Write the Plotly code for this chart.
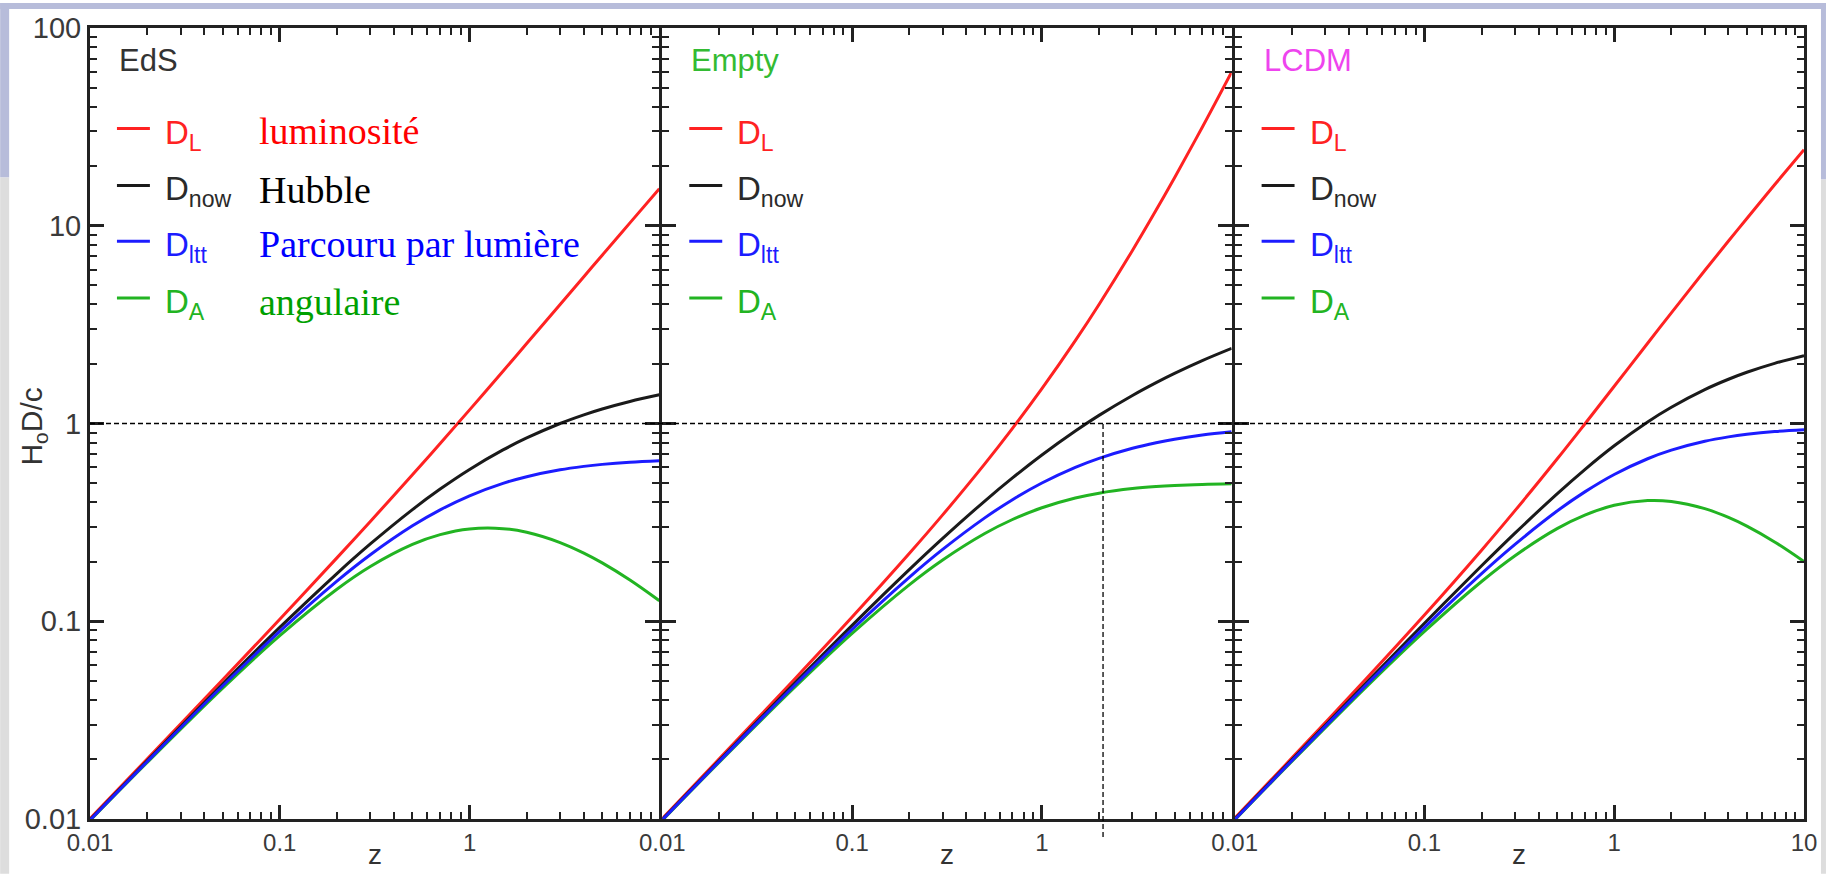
import plotly.graph_objects as go

# ---------------- data ----------------
z = [0.01, 0.02, 0.05, 0.1, 0.2, 0.3, 0.5, 0.7, 1, 1.5, 2, 3, 4, 5, 7, 10]

eds_DL   = [0.01003, 0.02010, 0.05061, 0.1024, 0.2092, 0.3197, 0.5505, 0.7924, 1.172, 1.838, 2.536, 4.000, 5.528, 7.101, 10.34, 15.37]
eds_Dnow = [0.00993, 0.01970, 0.04820, 0.09307, 0.1743, 0.2459, 0.3670, 0.4661, 0.5858, 0.7351, 0.8453, 1.000, 1.106, 1.184, 1.293, 1.397]
eds_Dltt = [0.00987, 0.01949, 0.04705, 0.08881, 0.1595, 0.2169, 0.3038, 0.3659, 0.4310, 0.4980, 0.5384, 0.5833, 0.6070, 0.6213, 0.6372, 0.6484]
eds_DA   = [0.00983, 0.01931, 0.04590, 0.08461, 0.1452, 0.1892, 0.2447, 0.2742, 0.2929, 0.2940, 0.2818, 0.2500, 0.2211, 0.1973, 0.1616, 0.1270]

emp_DL   = [0.01005, 0.02020, 0.05125, 0.1050, 0.2200, 0.3450, 0.6250, 0.9450, 1.500, 2.625, 4.000, 7.500, 12.00, 17.50, 31.50, 60.00]
emp_Dnow = [0.00995, 0.01980, 0.04879, 0.09531, 0.1823, 0.2624, 0.4055, 0.5306, 0.6931, 0.9163, 1.099, 1.386, 1.609, 1.792, 2.079, 2.398]
emp_Dltt = [0.00990, 0.01961, 0.04762, 0.09091, 0.1667, 0.2308, 0.3333, 0.4118, 0.5000, 0.6000, 0.6667, 0.7500, 0.8000, 0.8333, 0.8750, 0.9091]
emp_DA   = [0.00985, 0.01942, 0.04649, 0.08678, 0.1528, 0.2041, 0.2778, 0.3270, 0.3750, 0.4200, 0.4444, 0.4688, 0.4800, 0.4861, 0.4922, 0.4959]

lcdm_DL   = [0.01008, 0.02031, 0.05190, 0.1075, 0.2288, 0.3626, 0.6615, 0.9947, 1.543, 2.547, 3.628, 5.936, 8.371, 10.89, 16.12, 24.25]
lcdm_Dnow = [0.00998, 0.01991, 0.04943, 0.09771, 0.1907, 0.2789, 0.4410, 0.5851, 0.7714, 1.019, 1.209, 1.484, 1.674, 1.816, 2.015, 2.204]
lcdm_Dltt = [0.00993, 0.01971, 0.04823, 0.09317, 0.1741, 0.2447, 0.3609, 0.4511, 0.5523, 0.6634, 0.7331, 0.8129, 0.8556, 0.8814, 0.9104, 0.9308]
lcdm_DA   = [0.00988, 0.01952, 0.04708, 0.08882, 0.1589, 0.2145, 0.2940, 0.3442, 0.3857, 0.4076, 0.4032, 0.3710, 0.3349, 0.3026, 0.2518, 0.2004]

panel_names = ["EdS", "Empty", "LCDM"]
panel_title_colors = ["#333333", "#33bb33", "#ee44ee"]
series_labels = ["D<sub>L</sub>", "D<sub>now</sub>", "D<sub>ltt</sub>", "D<sub>A</sub>"]
series_colors = ["#ff2222", "#1a1a1a", "#1c1cff", "#22b422"]
french_labels = ["luminosité", "Hubble", "Parcouru par lumière", "angulaire"]
french_colors = ["#ff0000", "#000000", "#0000ff", "#00a000"]

x_ticks_12 = [0.01, 0.1, 1]
x_ticktext_12 = ["0.01", "0.1", "1"]
x_ticks_3 = [0.01, 0.1, 1, 10]
x_ticktext_3 = ["0.01", "0.1", "1", "10"]
y_ticks = [0.01, 0.1, 1, 10, 100]
y_ticktext = ["0.01", "0.1", "1", "10", "100"]

unit_line = 1          # horizontal dashed reference H0 D / c = 1
z_marker_empty = 2.1   # vertical dashed line in the Empty panel

panels = [
    (eds_DL, eds_Dnow, eds_Dltt, eds_DA),
    (emp_DL, emp_Dnow, emp_Dltt, emp_DA),
    (lcdm_DL, lcdm_Dnow, lcdm_Dltt, lcdm_DA),
]

# ---------------- geometry helpers ----------------
W, H = 1829, 874
L, R, T, B = 90, 1807, 25, 819
LW = 3                                  # axis line width
GAP = LW / (R - L)                      # paper gap so neighbouring frame lines overlap
DW = (1 - 2 * GAP) / 3.0                # panel domain width (paper)
domains = [[p * (DW + GAP), p * (DW + GAP) + DW] for p in range(3)]
domains[2][1] = 1.0

def px(x):
    return (x - L) / (R - L)

def py(y):
    return (B - y) / (B - T)

def panel_left(p):
    return L + domains[p][0] * (R - L)

def panel_width(p):
    return (domains[p][1] - domains[p][0]) * (R - L)

fig = go.Figure()

axis_color = "#222222"
for p, (DL, Dnow, Dltt, DA) in enumerate(panels):
    xa = "x" if p == 0 else f"x{p+1}"
    ya = "y" if p == 0 else f"y{p+1}"
    for vals, col in [(DA, series_colors[3]), (DL, series_colors[0]),
                      (Dnow, series_colors[1]), (Dltt, series_colors[2])]:
        fig.add_trace(go.Scatter(x=z, y=vals, mode="lines", xaxis=xa, yaxis=ya,
                                 line=dict(color=col, width=3, shape="spline"),
                                 showlegend=False, hoverinfo="skip"))

minor_x = [m * 10.0 ** k for k in (-2, -1, 0) for m in range(2, 10)]
minor_y = [m * 10.0 ** k for k in (-2, -1, 0, 1) for m in range(2, 10)]

tick_font_x = dict(family="Liberation Sans, Arial", size=24, color="#3a3a3a")
tick_font_y = dict(family="Liberation Sans, Arial", size=29, color="#3a3a3a")

layout_axes = {}
for p in range(3):
    xk = "xaxis" if p == 0 else f"xaxis{p+1}"
    yk = "yaxis" if p == 0 else f"yaxis{p+1}"
    xa = "x" if p == 0 else f"x{p+1}"
    ya = "y" if p == 0 else f"y{p+1}"
    tv = x_ticks_3 if p == 2 else x_ticks_12
    tt = x_ticktext_3 if p == 2 else x_ticktext_12
    layout_axes[xk] = dict(
        type="log", range=[-2, 1], domain=domains[p], anchor=ya,
        tickmode="array", tickvals=tv, ticktext=tt, ticks="inside", ticklen=14, tickwidth=2.5,
        tickcolor=axis_color, showline=True, linewidth=LW, linecolor=axis_color,
        mirror="allticks", showgrid=False, zeroline=False, tickfont=tick_font_x,
        minor=dict(tickmode="array", tickvals=minor_x, ticks="inside", ticklen=7, tickwidth=2,
                   tickcolor=axis_color, showgrid=False),
    )
    layout_axes[yk] = dict(
        type="log", range=[-2, 2], domain=[0, 1], anchor=xa,
        tickmode="array", tickvals=y_ticks, ticktext=y_ticktext, showticklabels=(p == 0),
        ticks="inside", ticklen=14, tickwidth=2.5, tickcolor=axis_color,
        showline=True, linewidth=LW, linecolor=axis_color, mirror="allticks",
        showgrid=False, zeroline=False, tickfont=tick_font_y,
        minor=dict(tickmode="array", tickvals=minor_y, ticks="inside", ticklen=7, tickwidth=2,
                   tickcolor=axis_color, showgrid=False),
    )

shapes = []
annotations = []

lav = "#b7bcda"
gray = "#dddddd"
shapes.append(dict(type="rect", xref="paper", yref="paper", x0=px(0), x1=px(W), y0=py(0), y1=py(6),
                   fillcolor=lav, line=dict(width=0), layer="below"))
shapes.append(dict(type="rect", xref="paper", yref="paper", x0=px(0), x1=px(9), y0=py(0), y1=py(175),
                   fillcolor=lav, line=dict(width=0), layer="below"))
shapes.append(dict(type="rect", xref="paper", yref="paper", x0=px(0), x1=px(9), y0=py(175), y1=py(H),
                   fillcolor=gray, line=dict(width=0), layer="below"))
shapes.append(dict(type="rect", xref="paper", yref="paper", x0=px(1824), x1=px(W), y0=py(0), y1=py(177),
                   fillcolor=lav, line=dict(width=0), layer="below"))
shapes.append(dict(type="rect", xref="paper", yref="paper", x0=px(1824), x1=px(W), y0=py(177), y1=py(H),
                   fillcolor=gray, line=dict(width=0), layer="below"))

shapes.append(dict(type="line", xref="paper", yref="y", x0=0, x1=px(1785), y0=unit_line, y1=unit_line,
                   line=dict(color="#000000", width=1.3, dash="5px,3px")))
shapes.append(dict(type="line", xref="x2", yref="paper", x0=z_marker_empty, x1=z_marker_empty,
                   y0=py(837), y1=0.5, line=dict(color="#000000", width=1.3, dash="5px,3px")))

rows = [126, 183, 239, 296]
text_rows = [128, 188, 242, 300]
for p in range(3):
    ox = panel_left(p)
    annotations.append(dict(text=panel_names[p], xref="paper", yref="paper", x=px(ox + 27), y=py(58),
                            xanchor="left", yanchor="middle", showarrow=False,
                            font=dict(family="Liberation Sans, Arial", size=31, color=panel_title_colors[p])))
    for i in range(4):
        shapes.append(dict(type="line", xref="paper", yref="paper", x0=px(ox + 27), x1=px(ox + 60),
                           y0=py(rows[i]), y1=py(rows[i]),
                           line=dict(color=series_colors[i], width=3)))
        annotations.append(dict(text=series_labels[i], xref="paper", yref="paper", x=px(ox + 73),
                                y=py(rows[i] + 6), xanchor="left", yanchor="middle", showarrow=False,
                                font=dict(family="Liberation Sans, Arial", size=33,
                                          color=series_colors[i] if i != 1 else "#2a2a2a")))
    annotations.append(dict(text="z", xref="paper", yref="paper", x=px(ox + panel_width(p) / 2), y=py(855),
                            xanchor="center", yanchor="middle", showarrow=False,
                            font=dict(family="Liberation Sans, Arial", size=28, color="#333333")))

for i in range(4):
    annotations.append(dict(text=french_labels[i], xref="paper", yref="paper", x=px(257), y=py(text_rows[i]),
                            xanchor="left", yanchor="middle", showarrow=False,
                            font=dict(family="Liberation Serif, Times New Roman", size=38,
                                      color=french_colors[i])))

annotations.append(dict(text="H<sub>o</sub>D/c", xref="paper", yref="paper", x=px(33), y=py(425),
                        xanchor="center", yanchor="middle", textangle=-90, showarrow=False,
                        font=dict(family="Liberation Sans, Arial", size=30, color="#333333")))

fig.update_layout(
    width=W, height=H,
    margin=dict(l=L, r=W - R, t=T, b=H - B),
    paper_bgcolor="white", plot_bgcolor="white",
    showlegend=False,
    shapes=shapes, annotations=annotations,
    **layout_axes,
)

fig.write_html("out.html")
